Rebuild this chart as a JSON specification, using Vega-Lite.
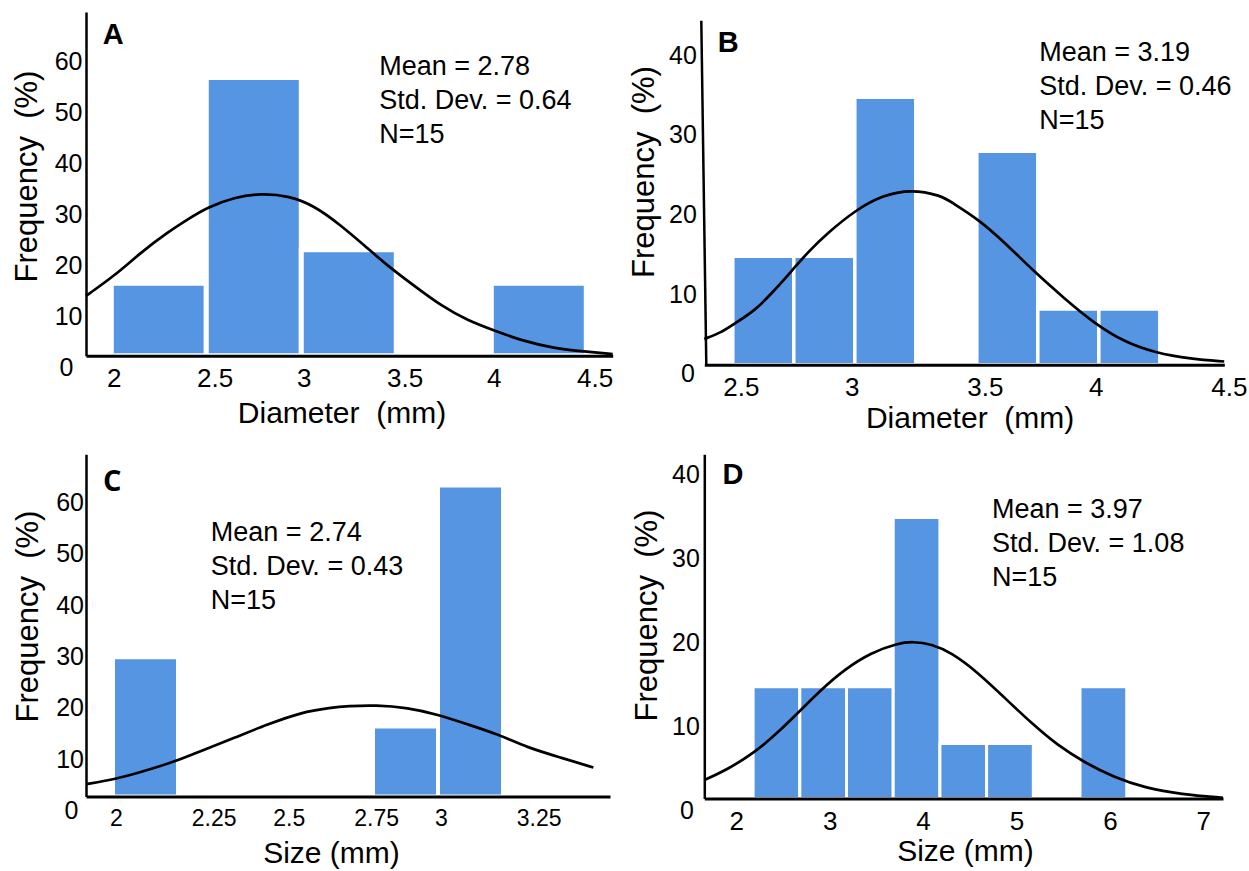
{
  "$schema": "https://vega.github.io/schema/vega-lite/v6.json",
  "padding": {"left": 11, "top": 12, "right": 0, "bottom": 0},
  "bounds": "flush",
  "columns": 2,
  "spacing": {"row": 89.3, "column": 91.3},
  "config": {
    "view": {"stroke": null},
    "font": "Liberation Sans",
    "axis": {"grid": false, "ticks": false, "tickSize": 0, "domainColor": "#000", "labelColor": "#000", "titleColor": "#000", "labelFont": "Liberation Sans", "titleFont": "Liberation Sans", "titleFontWeight": "normal", "labelFlush": false, "labelOverlap": false, "labelBound": false},
    "axisX": {"domainWidth": 3, "labelAlign": "center", "labelBaseline": "alphabetic", "titleFontSize": 30, "titleBaseline": "alphabetic", "titleAlign": "center", "titleAngle": 0},
    "axisY": {"domainWidth": 2.5, "labelAlign": "right", "labelBaseline": "middle", "titleFontSize": 31, "titleBaseline": "alphabetic", "titleAlign": "center", "titleAngle": -90}
  },
  "datasets": {
    "barsA": [
      {"x": 2.0, "x2": 2.5, "y": 13.8},
      {"x": 2.5, "x2": 3.0, "y": 53.0},
      {"x": 3.0, "x2": 3.5, "y": 20.2},
      {"x": 4.0, "x2": 4.5, "y": 13.8}
    ],
    "curveA": [
      {"x": 1.867, "y": 11.4}, {"x": 2.016, "y": 15.2}, {"x": 2.157, "y": 19.7}, {"x": 2.297, "y": 23.5},
      {"x": 2.403, "y": 26.0}, {"x": 2.508, "y": 28.3}, {"x": 2.648, "y": 30.2}, {"x": 2.788, "y": 30.9},
      {"x": 2.929, "y": 30.5}, {"x": 3.069, "y": 28.6}, {"x": 3.209, "y": 24.8}, {"x": 3.332, "y": 21.0},
      {"x": 3.455, "y": 17.1}, {"x": 3.595, "y": 13.3}, {"x": 3.736, "y": 9.5}, {"x": 3.876, "y": 6.7},
      {"x": 4.016, "y": 4.8}, {"x": 4.157, "y": 2.9}, {"x": 4.332, "y": 1.4}, {"x": 4.49, "y": 0.8},
      {"x": 4.639, "y": 0.3}
    ],
    "barsB": [
      {"x": 2.5, "x2": 2.75, "y": 13.47},
      {"x": 2.75, "x2": 3.0, "y": 13.47},
      {"x": 3.0, "x2": 3.25, "y": 33.22},
      {"x": 3.5, "x2": 3.75, "y": 26.52},
      {"x": 3.75, "x2": 4.0, "y": 6.93},
      {"x": 4.0, "x2": 4.25, "y": 6.93}
    ],
    "curveB": [
      {"x": 2.383, "y": 3.2}, {"x": 2.453, "y": 4.0}, {"x": 2.507, "y": 5.1}, {"x": 2.589, "y": 6.7},
      {"x": 2.658, "y": 8.8}, {"x": 2.743, "y": 11.7}, {"x": 2.808, "y": 14.0}, {"x": 2.890, "y": 16.4},
      {"x": 2.999, "y": 19.1}, {"x": 3.109, "y": 21.0}, {"x": 3.232, "y": 21.8}, {"x": 3.355, "y": 21.0},
      {"x": 3.395, "y": 20.2}, {"x": 3.505, "y": 18.1}, {"x": 3.614, "y": 15.2}, {"x": 3.737, "y": 11.5},
      {"x": 3.860, "y": 8.2}, {"x": 3.983, "y": 5.1}, {"x": 4.106, "y": 2.8}, {"x": 4.229, "y": 1.5},
      {"x": 4.379, "y": 0.7}, {"x": 4.514, "y": 0.4}
    ],
    "barsC": [
      {"x": 2.0, "x2": 2.2, "y": 26.79},
      {"x": 2.8, "x2": 3.0, "y": 13.46},
      {"x": 3.0, "x2": 3.2, "y": 59.81}
    ],
    "curveC": [
      {"x": 1.917, "y": 2.4}, {"x": 2.004, "y": 3.3}, {"x": 2.086, "y": 4.7}, {"x": 2.194, "y": 6.8},
      {"x": 2.271, "y": 8.8}, {"x": 2.373, "y": 11.3}, {"x": 2.476, "y": 13.9}, {"x": 2.578, "y": 16.2},
      {"x": 2.671, "y": 17.1}, {"x": 2.722, "y": 17.4}, {"x": 2.809, "y": 17.6}, {"x": 2.907, "y": 17.1},
      {"x": 2.999, "y": 15.8}, {"x": 3.091, "y": 13.9}, {"x": 3.184, "y": 12.0}, {"x": 3.276, "y": 9.4},
      {"x": 3.378, "y": 7.5}, {"x": 3.478, "y": 5.6}
    ],
    "barsD": [
      {"x": 2.18, "x2": 2.68, "y": 13.31},
      {"x": 2.68, "x2": 3.18, "y": 13.31},
      {"x": 3.18, "x2": 3.68, "y": 13.31},
      {"x": 3.68, "x2": 4.18, "y": 33.46},
      {"x": 4.18, "x2": 4.68, "y": 6.56},
      {"x": 4.68, "x2": 5.18, "y": 6.56},
      {"x": 5.68, "x2": 6.18, "y": 13.31}
    ],
    "curveD": [
      {"x": 1.657, "y": 2.2}, {"x": 1.911, "y": 3.5}, {"x": 2.196, "y": 5.5}, {"x": 2.410, "y": 7.5},
      {"x": 2.661, "y": 10.2}, {"x": 2.910, "y": 13.0}, {"x": 3.160, "y": 15.4}, {"x": 3.445, "y": 17.4},
      {"x": 3.731, "y": 18.5}, {"x": 3.892, "y": 18.7}, {"x": 4.088, "y": 18.4}, {"x": 4.302, "y": 17.4},
      {"x": 4.588, "y": 15.0}, {"x": 4.873, "y": 12.0}, {"x": 5.158, "y": 9.0}, {"x": 5.444, "y": 6.3},
      {"x": 5.729, "y": 4.3}, {"x": 6.050, "y": 2.5}, {"x": 6.372, "y": 1.3}, {"x": 6.764, "y": 0.5},
      {"x": 7.211, "y": 0.1}
    ]
  },
  "concat": [
    {
      "width": 526.7,
      "height": 343.7,
      "layer": [
        {"data": {"name": "barsA"}, "mark": {"type": "bar", "fill": "#5595e2", "stroke": "white", "strokeWidth": 5},
          "encoding": {
            "x": {"field": "x", "type": "quantitative", "title": "Diameter\u00a0\u00a0(mm)", "scale": {"domain": [1.867, 4.639], "nice": false, "zero": false},
              "axis": {"zindex": 2, "values": [2, 2.5, 3, 3.5, 4, 4.5], "labelExpr": "'' + datum.value", "labelFontSize": 26, "labelPadding": 30.6, "labelOffset": {"expr": "datum.value % 1 == 0 ? 2.4 : 8.4"}, "titleX": 255.5, "titleY": 67}},
            "x2": {"field": "x2"},
            "y": {"field": "y", "type": "quantitative", "title": "Frequency\u00a0\u00a0(%)", "scale": {"domain": [0, 65.47], "nice": false, "zero": false},
              "axis": {"zindex": 2, "values": [0, 10, 20, 30, 40, 50, 60], "labelFontSize": 25, "labelPadding": {"expr": "datum.value == 0 ? 13 : 4"}, "labelOffset": {"expr": "12.1 + 0.138 * datum.value"}, "titleX": -49.4, "titleY": 164}},
            "y2": {"datum": 0, "type": "quantitative"}
          }},
        {"data": {"name": "curveA"}, "mark": {"type": "line", "color": "black", "strokeWidth": 2.7, "interpolate": "basis"},
          "encoding": {"x": {"field": "x", "type": "quantitative", "title": "Diameter\u00a0\u00a0(mm)"}, "y": {"field": "y", "type": "quantitative", "title": "Frequency\u00a0\u00a0(%)"}}},
        {"data": {"values": [{"lines": ["Mean = 2.78", "Std. Dev. = 0.64", "N=15"]}]}, "mark": {"type": "text", "align": "left", "baseline": "alphabetic", "fontSize": 27, "lineHeight": 34, "color": "black"},
          "encoding": {"x": {"datum": 3.41, "type": "quantitative"}, "y": {"datum": 53.39, "type": "quantitative"}, "text": {"field": "lines", "type": "nominal"}}},
        {"data": {"values": [{"letter": "A"}]}, "mark": {"type": "text", "align": "left", "baseline": "alphabetic", "fontSize": 29, "fontWeight": "bold", "color": "black"},
          "encoding": {"x": {"datum": 1.955, "type": "quantitative"}, "y": {"datum": 59.37, "type": "quantitative"}, "text": {"field": "letter", "type": "nominal"}}}
      ]
    },
    {
      "width": 520,
      "height": 352.7,
      "layer": [
        {"data": {"name": "barsB"}, "mark": {"type": "bar", "fill": "#5595e2", "stroke": "white", "strokeWidth": 3.5},
          "encoding": {
            "x": {"field": "x", "type": "quantitative", "title": "Diameter\u00a0\u00a0(mm)", "scale": {"domain": [2.3832, 4.5143], "nice": false, "zero": false},
              "axis": {"zindex": 2, "values": [2.5, 3, 3.5, 4, 4.5], "labelExpr": "'' + datum.value", "labelFontSize": 26, "labelPadding": 31, "labelOffset": {"expr": "datum.value % 1 == 0 ? -3 : 8"}, "titleX": 265.3, "titleY": 63}},
            "x2": {"field": "x2"},
            "y": {"field": "y", "type": "quantitative", "title": "Frequency\u00a0\u00a0(%)", "scale": {"domain": [0, 43.81], "nice": false, "zero": false},
              "axis": {"zindex": 2, "domain": false, "values": [0, 10, 20, 30, 40], "labelFontSize": 25, "labelPadding": {"expr": "datum.value == 0 ? 10 : 8"}, "labelOffset": {"expr": "8.9 + 0.092 * datum.value"}, "titleX": -51.1, "titleY": 159.5}},
            "y2": {"datum": 0, "type": "quantitative"}
          }},
        {"data": {"name": "curveB"}, "mark": {"type": "line", "color": "black", "strokeWidth": 2.7, "interpolate": "basis"},
          "encoding": {"x": {"field": "x", "type": "quantitative", "title": "Diameter\u00a0\u00a0(mm)"}, "y": {"field": "y", "type": "quantitative", "title": "Frequency\u00a0\u00a0(%)"}}},
        {"data": {"values": [{"axis": "y"}]}, "mark": {"type": "rule", "color": "black", "strokeWidth": 2.5},
          "encoding": {"x": {"datum": 2.3914, "type": "quantitative"}, "y": {"datum": 0, "type": "quantitative"}, "x2": {"datum": 2.3709}, "y2": {"datum": 42.73}}},
        {"data": {"values": [{"lines": ["Mean = 3.19", "Std. Dev. = 0.46", "N=15"]}]}, "mark": {"type": "text", "align": "left", "baseline": "alphabetic", "fontSize": 27, "lineHeight": 34, "color": "black"},
          "encoding": {"x": {"datum": 3.756, "type": "quantitative"}, "y": {"datum": 37.68, "type": "quantitative"}, "text": {"field": "lines", "type": "nominal"}}},
        {"data": {"values": [{"letter": "B"}]}, "mark": {"type": "text", "align": "left", "baseline": "alphabetic", "fontSize": 29, "fontWeight": "bold", "color": "black"},
          "encoding": {"x": {"datum": 2.438, "type": "quantitative"}, "y": {"datum": 38.81, "type": "quantitative"}, "text": {"field": "letter", "type": "nominal"}}}
      ]
    },
    {
      "width": 524,
      "height": 342.3,
      "layer": [
        {"data": {"name": "barsC"}, "mark": {"type": "bar", "fill": "#5595e2", "stroke": "white", "strokeWidth": 4},
          "encoding": {
            "x": {"field": "x", "type": "quantitative", "title": "Size (mm)", "scale": {"domain": [1.9169, 3.5292], "nice": false, "zero": false},
              "axis": {"zindex": 2, "values": [2, 2.25, 2.5, 2.75, 3, 3.25], "labelExpr": "'' + datum.value", "labelFontSize": 23, "labelPadding": 28.4, "labelOffset": {"expr": "datum.value == 2.5 ? 13.3 : (datum.value % 1 == 0 ? 2.8 : 19.4)"}, "titleX": 245, "titleY": 66}},
            "x2": {"field": "x2"},
            "y": {"field": "y", "type": "quantitative", "title": "Frequency\u00a0\u00a0(%)", "scale": {"domain": [0, 65.83], "nice": false, "zero": false},
              "axis": {"zindex": 2, "values": [0, 10, 20, 30, 40, 50, 60], "labelFontSize": 25, "labelPadding": {"expr": "datum.value == 0 ? 8 : 2.5"}, "labelOffset": {"expr": "14 + 0.062 * datum.value"}, "titleX": -48.1, "titleY": 161.7}},
            "y2": {"datum": 0, "type": "quantitative"}
          }},
        {"data": {"name": "curveC"}, "mark": {"type": "line", "color": "black", "strokeWidth": 2.7, "interpolate": "basis"},
          "encoding": {"x": {"field": "x", "type": "quantitative", "title": "Size (mm)"}, "y": {"field": "y", "type": "quantitative", "title": "Frequency\u00a0\u00a0(%)"}}},
        {"data": {"values": [{"lines": ["Mean = 2.74", "Std. Dev. = 0.43", "N=15"]}]}, "mark": {"type": "text", "align": "left", "baseline": "alphabetic", "fontSize": 27, "lineHeight": 34, "color": "black"},
          "encoding": {"x": {"datum": 2.301, "type": "quantitative"}, "y": {"datum": 49.06, "type": "quantitative"}, "text": {"field": "lines", "type": "nominal"}}},
        {"data": {"values": [{"letter": "C"}]}, "mark": {"type": "text", "align": "left", "baseline": "alphabetic", "fontSize": 29, "fontWeight": "bold", "font": "Open Sans", "color": "black"},
          "encoding": {"x": {"datum": 1.969, "type": "quantitative"}, "y": {"datum": 58.77, "type": "quantitative"}, "text": {"field": "letter", "type": "nominal"}}}
      ]
    },
    {
      "width": 518.7,
      "height": 344.3,
      "layer": [
        {"data": {"name": "barsD"}, "mark": {"type": "bar", "fill": "#5595e2", "stroke": "white", "strokeWidth": 3},
          "encoding": {
            "x": {"field": "x", "type": "quantitative", "title": "Size (mm)", "scale": {"domain": [1.6574, 7.2109], "nice": false, "zero": false},
              "axis": {"zindex": 2, "values": [2, 3, 4, 5, 6, 7], "labelExpr": "'' + datum.value", "labelFontSize": 26, "labelPadding": 30.7, "titleX": 260.7, "titleY": 62}},
            "x2": {"field": "x2"},
            "y": {"field": "y", "type": "quantitative", "title": "Frequency\u00a0\u00a0(%)", "scale": {"domain": [0, 40.99], "nice": false, "zero": false},
              "axis": {"zindex": 2, "values": [0, 10, 20, 30, 40], "labelFontSize": 25, "labelPadding": {"expr": "datum.value == 0 ? 11 : 5"}, "labelOffset": 11.8, "titleX": -47.7, "titleY": 160.8}},
            "y2": {"datum": 0, "type": "quantitative"}
          }},
        {"data": {"name": "curveD"}, "mark": {"type": "line", "color": "black", "strokeWidth": 2.7, "interpolate": "basis"},
          "encoding": {"x": {"field": "x", "type": "quantitative", "title": "Size (mm)"}, "y": {"field": "y", "type": "quantitative", "title": "Frequency\u00a0\u00a0(%)"}}},
        {"data": {"values": [{"lines": ["Mean = 3.97", "Std. Dev. = 1.08", "N=15"]}]}, "mark": {"type": "text", "align": "left", "baseline": "alphabetic", "fontSize": 27, "lineHeight": 34, "color": "black"},
          "encoding": {"x": {"datum": 4.738, "type": "quantitative"}, "y": {"datum": 33.37, "type": "quantitative"}, "text": {"field": "lines", "type": "nominal"}}},
        {"data": {"values": [{"letter": "D"}]}, "mark": {"type": "text", "align": "left", "baseline": "alphabetic", "fontSize": 29, "fontWeight": "bold", "color": "black"},
          "encoding": {"x": {"datum": 1.853, "type": "quantitative"}, "y": {"datum": 37.42, "type": "quantitative"}, "text": {"field": "letter", "type": "nominal"}}}
      ]
    }
  ]
}
